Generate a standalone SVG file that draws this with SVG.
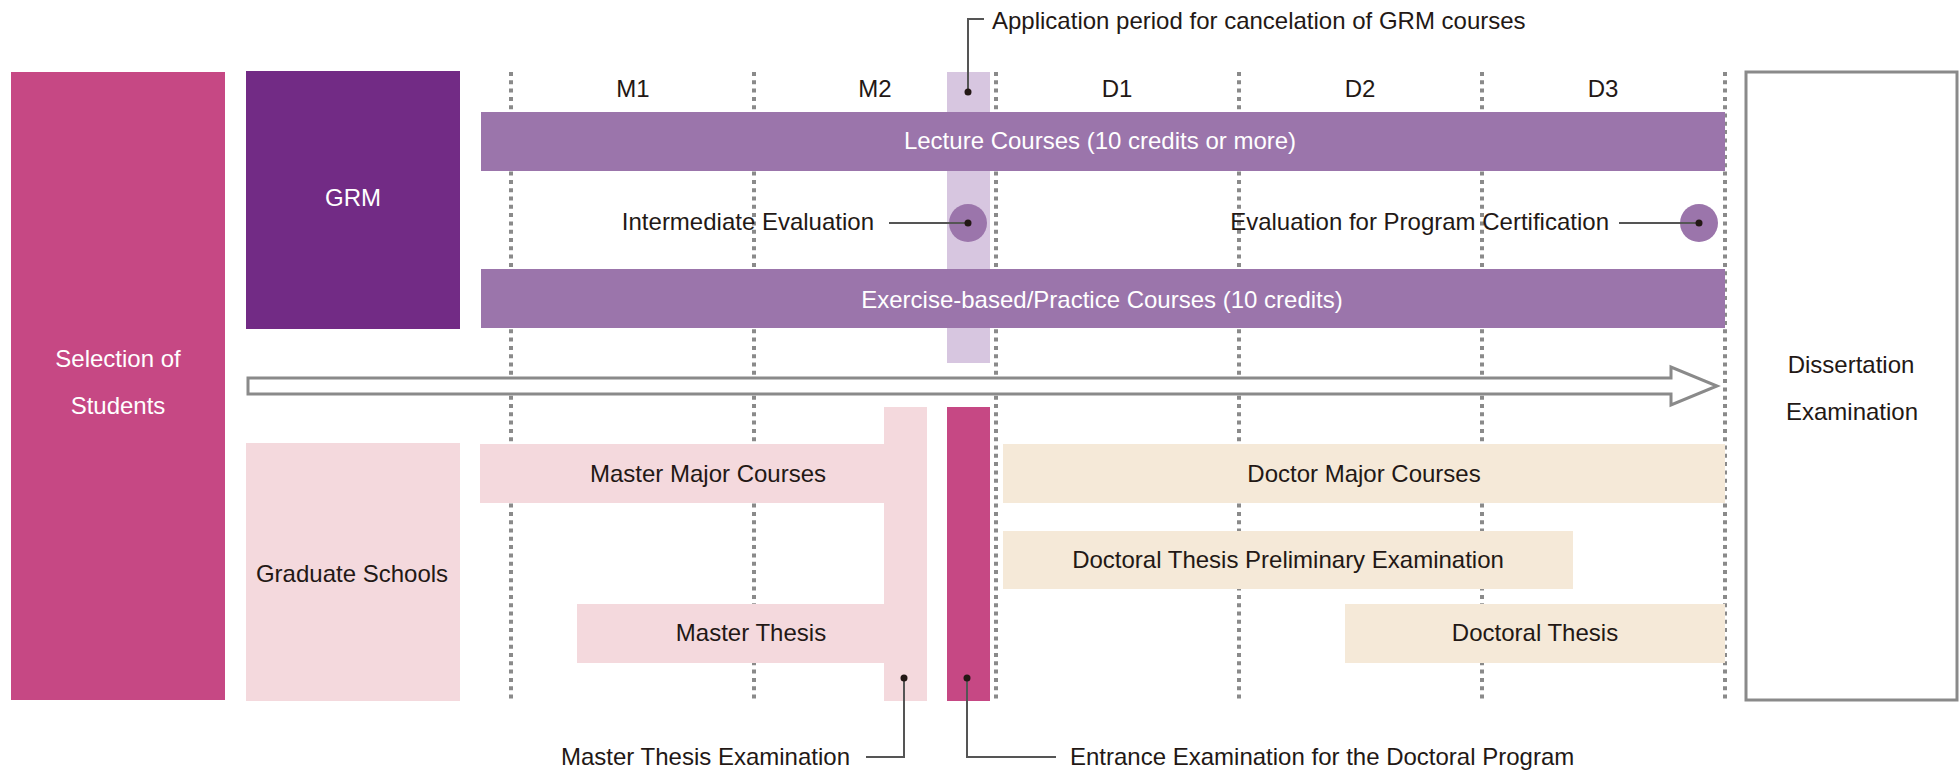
<svg xmlns="http://www.w3.org/2000/svg" width="1959" height="770" viewBox="0 0 1959 770">
<style>
text{font-family:"Liberation Sans",Arial,sans-serif;font-size:24px;fill:#231815}
.w{fill:#ffffff}
.c{text-anchor:middle}
.grid{stroke:#8a8a8a;stroke-width:4;stroke-dasharray:4 4.3;fill:none}
.lead{stroke:#555555;stroke-width:2;fill:none}
.dot{fill:#231815}
.grm{fill:#9b75ab}
.pink{fill:#f4d9dd}
.cream{fill:#f5e9d8}
.mag{fill:#c64884}
</style>
<rect width="1959" height="770" fill="#ffffff"/>
<g id="grid">
<line class="grid" x1="511" y1="72" x2="511" y2="700"/>
<line class="grid" x1="754" y1="72" x2="754" y2="700"/>
<line class="grid" x1="996" y1="72" x2="996" y2="700"/>
<line class="grid" x1="1239" y1="72" x2="1239" y2="700"/>
<line class="grid" x1="1482" y1="72" x2="1482" y2="700"/>
<line class="grid" x1="1725" y1="72" x2="1725" y2="700"/>
</g>
<g id="periods">
<text class="c" x="633" y="97">M1</text>
<text class="c" x="875" y="97">M2</text>
<text class="c" x="1117" y="97">D1</text>
<text class="c" x="1360" y="97">D2</text>
<text class="c" x="1603" y="97">D3</text>
</g>
<g id="selection">
<rect class="mag" x="11" y="72" width="214" height="628"/>
<text class="w c" x="118" y="367">Selection of</text>
<text class="w c" x="118" y="414">Students</text>
</g>
<g id="grm">
<rect x="246" y="71" width="214" height="258" fill="#722b85"/>
<text class="w c" x="353" y="206">GRM</text>
</g>
<g id="cancel-period">
<rect x="947" y="72" width="43" height="291" fill="#d7c6e0"/>
</g>
<g id="lecture">
<rect class="grm" x="481" y="112" width="1244" height="59"/>
<text class="w c" x="1100" y="149">Lecture Courses (10 credits or more)</text>
</g>
<g id="exercise">
<rect class="grm" x="481" y="269" width="1244" height="59"/>
<text class="w c" x="1102" y="308">Exercise-based/Practice Courses (10 credits)</text>
</g>
<g id="intermediate">
<circle class="grm" cx="968" cy="223" r="19"/>
<text x="874" y="230" text-anchor="end">Intermediate Evaluation</text>
</g>
<g id="certification">
<circle class="grm" cx="1699" cy="223" r="19"/>
<text x="1609" y="230" text-anchor="end">Evaluation for Program Certification</text>
</g>
<g id="flow-arrow">
<path d="M248 378 H1671 V367 L1717 386 L1671 405 V394 H248 Z" fill="#ffffff" stroke="#8a8a8a" stroke-width="3" stroke-linejoin="miter"/>
</g>
<g id="dissertation">
<rect x="1746" y="72" width="211" height="628" fill="#ffffff" stroke="#8a8a8a" stroke-width="3"/>
<text class="c" x="1851" y="373">Dissertation</text>
<text class="c" x="1852" y="420">Examination</text>
</g>
<g id="graduate-schools">
<rect class="pink" x="246" y="443" width="214" height="258"/>
<text class="c" x="352" y="582">Graduate Schools</text>
</g>
<g id="master">
<path class="pink" d="M884 407 H927 V701 H884 V663 H577 V604 H884 V503 H480 V444 H884 Z"/>
<text class="c" x="708" y="482">Master Major Courses</text>
<text class="c" x="751" y="641">Master Thesis</text>
</g>
<g id="entrance">
<rect class="mag" x="947" y="407" width="43" height="294"/>
</g>
<g id="doctor-major">
<rect class="cream" x="1003" y="444" width="722" height="59"/>
<text class="c" x="1364" y="482">Doctor Major Courses</text>
</g>
<g id="preliminary">
<rect class="cream" x="1003" y="531" width="570" height="58"/>
<text class="c" x="1288" y="568">Doctoral Thesis Preliminary Examination</text>
</g>
<g id="doctoral-thesis">
<rect class="cream" x="1345" y="604" width="380" height="59"/>
<text class="c" x="1535" y="641">Doctoral Thesis</text>
</g>
<g id="connectors">
<polyline class="lead" points="968,92 968,19 984,19"/>
<line class="lead" x1="889" y1="223" x2="968" y2="223"/>
<line class="lead" x1="1619" y1="223" x2="1699" y2="223"/>
<polyline class="lead" points="904,678 904,757 866,757"/>
<polyline class="lead" points="967,678 967,757 1056,757"/>
<circle class="dot" cx="968" cy="92" r="3.5"/>
<circle class="dot" cx="968" cy="223" r="3.5"/>
<circle class="dot" cx="1699" cy="223" r="3.5"/>
<circle class="dot" cx="904" cy="678" r="3.5"/>
<circle class="dot" cx="967" cy="678" r="3.5"/>
</g>
<g id="labels">
<text x="992" y="29">Application period for cancelation of GRM courses</text>
<text x="850" y="765" text-anchor="end">Master Thesis Examination</text>
<text x="1070" y="765">Entrance Examination for the Doctoral Program</text>
</g>
</svg>
